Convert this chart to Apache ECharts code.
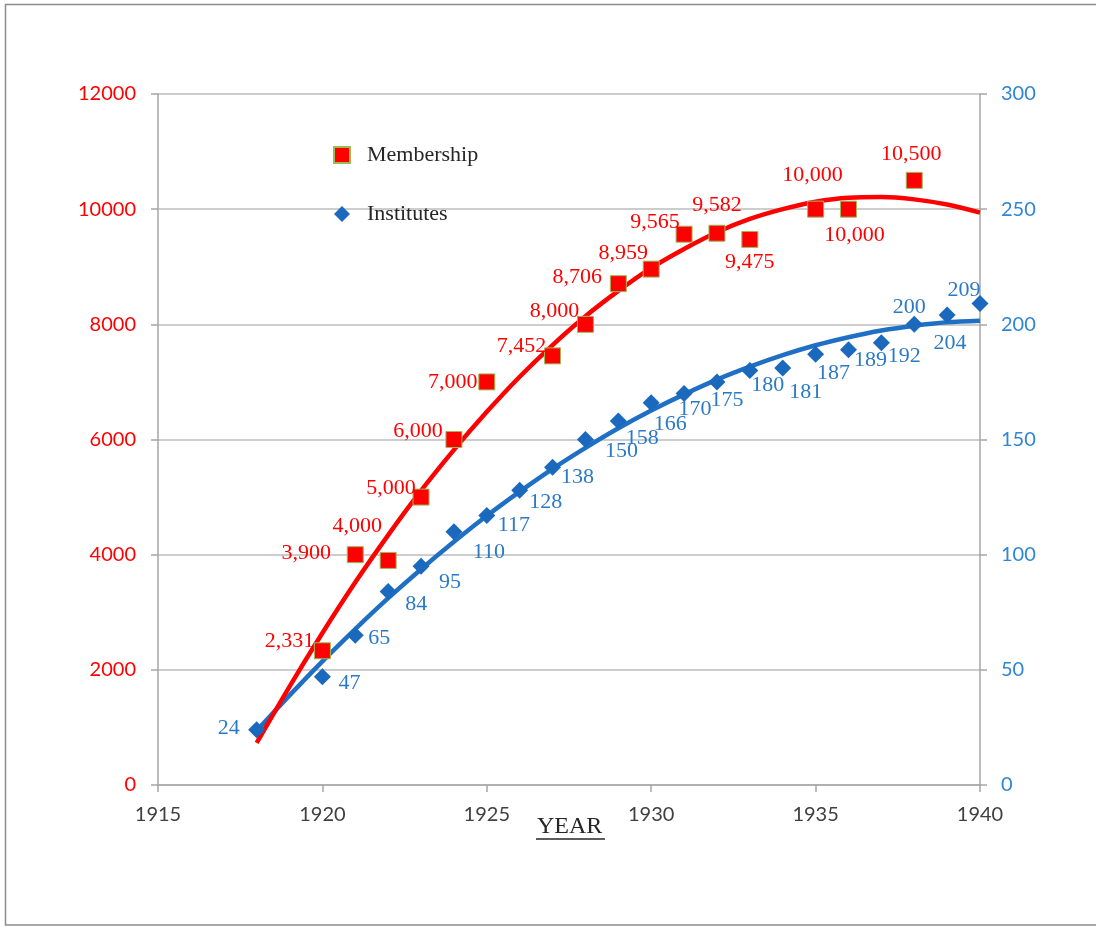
<!DOCTYPE html>
<html>
<head>
<meta charset="utf-8">
<script src="https://cdn.jsdelivr.net/npm/echarts@6/dist/echarts.min.js"></script>
<style>
  html, body { margin: 0; padding: 0; background: #ffffff; }
  #chart { width: 1096px; height: 927px; }
</style>
</head>
<body>
<div id="chart"></div>
<script>
// ---- Data ----
const membershipYears = [1920, 1921, 1922, 1923, 1924, 1925, 1927, 1928, 1929, 1930, 1931, 1932, 1933, 1935, 1936, 1938];
const membershipValues = [2331, 4000, 3900, 5000, 6000, 7000, 7452, 8000, 8706, 8959, 9565, 9582, 9475, 10000, 10000, 10500];

const institutesYears = [1918, 1920, 1921, 1922, 1923, 1924, 1925, 1926, 1927, 1928, 1929, 1930, 1931, 1932, 1933, 1934, 1935, 1936, 1937, 1938, 1939, 1940];
const institutesValues = [24, 47, 65, 84, 95, 110, 117, 128, 138, 150, 158, 166, 170, 175, 180, 181, 187, 189, 192, 200, 204, 209];

// trend curves as drawn in the reference (read per year)
const trendYears = [1918, 1919, 1920, 1921, 1922, 1923, 1924, 1925, 1926, 1927, 1928, 1929, 1930, 1931, 1932, 1933, 1934, 1935, 1936, 1937, 1938, 1939, 1940];
const membershipTrend = [730, 1710, 2640, 3520, 4340, 5110, 5820, 6480, 7090, 7640, 8140, 8580, 8980, 9310, 9600, 9830, 10000, 10130, 10200, 10210, 10170, 10080, 9940];
const institutesTrend = [23.5, 38.9, 53.7, 67.7, 81.1, 93.7, 105.6, 116.9, 127.4, 137.3, 146.4, 154.9, 162.6, 169.6, 176.0, 181.6, 186.6, 190.9, 194.4, 197.3, 199.4, 200.9, 201.6];

// axis ticks
const xTicks = [1915, 1920, 1925, 1930, 1935, 1940];
const leftTicks = [0, 2000, 4000, 6000, 8000, 10000, 12000];
const rightTicks = [0, 50, 100, 150, 200, 250, 300];

// ---- label placement (pixel offsets from marker centre) ----
const membershipLabelOffsets = [[-33,-10],[2,-28],[-82,-7],[-30,-9],[-36,-8],[-34,0],[-31,-10],[-31,-13],[-41,-6],[-28,-16],[-29,-12],[0,-28],[0,23],[-3,-34],[6,26],[-3,-26]];
const institutesLabelOffsets = [[-28,-2],[27,6],[24,3],[28,13],[29,16],[35,21],[27,10],[26,12],[25,10],[36,12],[24,17],[19,22],[11,16],[10,18],[18,15],[23,24],[18,19],[22,11],[23,13],[-5,-17],[3,28],[-16,-13]];

const RED = '#ff0000';
const BLUE_MARK = '#1a69bd';
const BLUE_LINE = '#1f70c4';
const BLUE_TEXT = '#2b7ac6';
const GRID_GRAY = '#bcbcbc';

function fmtThousands(v) {
  return String(v).replace(/\B(?=(\d{3})+(?!\d))/g, ',');
}

const membershipData = membershipYears.map((y, i) => ({
  value: [y, membershipValues[i]],
  label: { offset: membershipLabelOffsets[i] }
}));
const institutesData = institutesYears.map((y, i) => ({
  value: [y, institutesValues[i]],
  label: { offset: institutesLabelOffsets[i] }
}));

const chart = echarts.init(document.getElementById('chart'), null, { renderer: 'canvas' });

const option = {
  animation: false,
  backgroundColor: '#ffffff',
  grid: { left: 158, right: 116, top: 94, bottom: 142, containLabel: false },
  legend: {
    data: ['Membership', 'Institutes'],
    orient: 'vertical',
    left: 328,
    top: 139,
    itemGap: 37,
    itemWidth: 16,
    itemHeight: 16,
    textStyle: { fontFamily: 'Liberation Serif', fontSize: 22, color: '#262626', padding: [0, 0, 0, 12] }
  },
  xAxis: {
    type: 'value',
    min: xTicks[0],
    max: xTicks[xTicks.length - 1],
    interval: 5,
    axisLine: { show: true, lineStyle: { color: '#a6a6a6', width: 1.5 } },
    axisTick: { show: true, length: 7, lineStyle: { color: '#a6a6a6', width: 1.5 } },
    axisLabel: { color: '#404040', fontFamily: 'Lato', fontSize: 20, margin: 20, formatter: v => String(v) },
    splitLine: { show: false }
  },
  yAxis: [
    {
      type: 'value',
      position: 'left',
      min: leftTicks[0],
      max: leftTicks[leftTicks.length - 1],
      interval: 2000,
      axisLine: { show: true, lineStyle: { color: '#a6a6a6', width: 1.5 } },
      axisTick: { show: true, length: 7, lineStyle: { color: '#a6a6a6', width: 1.5 } },
      axisLabel: { color: RED, fontFamily: 'Lato', fontSize: 20, margin: 22, formatter: v => String(v) },
      splitLine: { show: true, lineStyle: { color: GRID_GRAY, width: 1.5 } }
    },
    {
      type: 'value',
      position: 'right',
      min: rightTicks[0],
      max: rightTicks[rightTicks.length - 1],
      interval: 50,
      axisLine: { show: true, lineStyle: { color: '#a6a6a6', width: 1.5 } },
      axisTick: { show: true, length: 7, lineStyle: { color: '#a6a6a6', width: 1.5 } },
      axisLabel: { color: '#2f86d4', fontFamily: 'Lato', fontSize: 20, margin: 21, formatter: v => String(v) },
      splitLine: { show: false }
    }
  ],
  graphic: [
    {
      type: 'rect',
      silent: true,
      shape: { x: 5.5, y: 4.5, width: 1200, height: 920.5 },
      style: { fill: 'none', stroke: '#8c8c8c', lineWidth: 1.5 },
      z: 100
    },
    {
      type: 'text',
      left: 537,
      top: 815,
      style: { text: 'YEAR', fontFamily: 'Liberation Serif', fontSize: 24, fill: '#262626' }
    },
    {
      type: 'line',
      shape: { x1: 536, y1: 839, x2: 605, y2: 839 },
      style: { stroke: '#262626', lineWidth: 1.5 }
    }
  ],
  series: [
    {
      name: 'Institutes trend',
      type: 'line',
      yAxisIndex: 1,
      data: trendYears.map((y, i) => [y, institutesTrend[i]]),
      smooth: 0.3,
      showSymbol: false,
      symbol: 'none',
      lineStyle: { color: BLUE_LINE, width: 4.5 },
      z: 2,
      silent: true
    },
    {
      name: 'Membership trend',
      type: 'line',
      yAxisIndex: 0,
      data: trendYears.map((y, i) => [y, membershipTrend[i]]),
      smooth: 0.3,
      showSymbol: false,
      symbol: 'none',
      lineStyle: { color: RED, width: 4.5 },
      z: 3,
      silent: true
    },
    {
      name: 'Institutes',
      type: 'scatter',
      yAxisIndex: 1,
      symbol: 'diamond',
      symbolSize: 17,
      itemStyle: { color: BLUE_MARK, opacity: 1 },
      data: institutesData,
      label: {
        show: true,
        position: 'inside',
        align: 'center',
        verticalAlign: 'middle',
        color: BLUE_TEXT,
        fontFamily: 'Liberation Serif',
        fontSize: 22,
        formatter: p => String(p.value[1])
      },
      z: 4
    },
    {
      name: 'Membership',
      type: 'scatter',
      yAxisIndex: 0,
      symbol: 'rect',
      symbolSize: 16,
      itemStyle: { color: RED, borderColor: '#9bbb59', borderWidth: 1, opacity: 1 },
      data: membershipData,
      label: {
        show: true,
        position: 'inside',
        align: 'center',
        verticalAlign: 'middle',
        color: RED,
        fontFamily: 'Liberation Serif',
        fontSize: 22,
        formatter: p => fmtThousands(p.value[1])
      },
      z: 5
    }
  ]
};

chart.setOption(option);
</script>
</body>
</html>
